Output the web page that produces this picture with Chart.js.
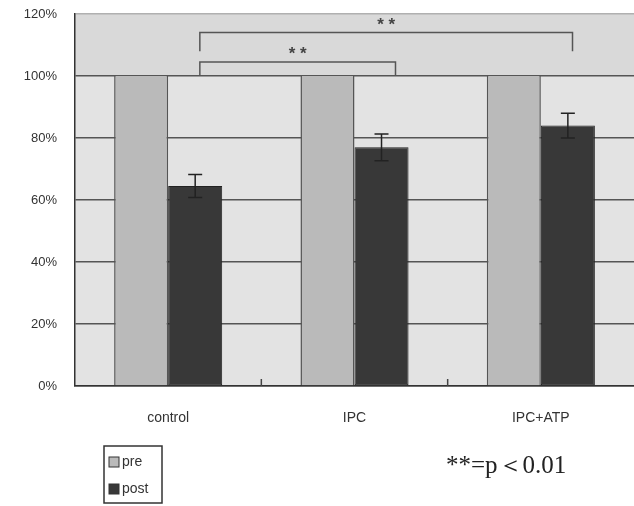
<!DOCTYPE html>
<html>
<head>
<meta charset="utf-8">
<script src="https://cdn.jsdelivr.net/npm/chart.js@4"></script>
<style>
  html, body { margin: 0; padding: 0; background: #fff; }
  #wrap { width: 634px; height: 506px; position: relative; }
</style>
</head>
<body>
<div id="wrap"><canvas id="grafico"></canvas></div>
<script>
const categorias = ['control', 'IPC', 'IPC+ATP'];
const valoresPre = [100, 100, 100];
const valoresPost = [64.5, 77, 84];
const errosPost = [3.7, 4.3, 4];
const ticksY = [0, 20, 40, 60, 80, 100, 120];
const legendas = ['pre', 'post'];
// brackets: [from x (category units), to x, height %, drop %, label]
const chaves = [
    [0.17, 1.22, 104.5, 100, '* *'],
    [0.17, 2.17, 114, 108, '* *']
];

const fundo = {
    id: 'fundo',
    beforeDraw(chart) {
        const { ctx, chartArea: a, scales } = chart;
        const y100 = scales.y.getPixelForValue(100);
        ctx.save();
        ctx.fillStyle = '#e3e3e3';
        ctx.fillRect(a.left, a.top, a.right - a.left, a.bottom - a.top);
        ctx.fillStyle = '#d9d9d9';
        ctx.fillRect(a.left, a.top, a.right - a.left, y100 - a.top);
        ctx.restore();
    }
};

const extras = {
    id: 'extras',
    afterDatasetsDraw(chart) {
        const { ctx, scales } = chart;
        const x = scales.x, y = scales.y;
        ctx.save();
        ctx.strokeStyle = '#222';
        ctx.lineWidth = 1.5;

        // error bars on post
        const meta = chart.getDatasetMeta(1);
        meta.data.forEach((bar, i) => {
            const top = y.getPixelForValue(valoresPost[i] + errosPost[i]);
            const bot = y.getPixelForValue(valoresPost[i] - errosPost[i]);
            ctx.beginPath();
            ctx.moveTo(bar.x, top); ctx.lineTo(bar.x, bot);
            ctx.moveTo(bar.x - 7, top); ctx.lineTo(bar.x + 7, top);
            ctx.moveTo(bar.x - 7, bot); ctx.lineTo(bar.x + 7, bot);
            ctx.stroke();
        });

        // small ticks between categories
        ctx.strokeStyle = '#444';
        for (let i = 0; i < categorias.length - 1; i++) {
            const px = (x.getPixelForTick(i) + x.getPixelForTick(i + 1)) / 2;
            ctx.beginPath();
            ctx.moveTo(px, y.bottom); ctx.lineTo(px, y.bottom - 7);
            ctx.stroke();
        }

        // significance brackets
        ctx.strokeStyle = '#555';
        ctx.fillStyle = '#444';
        ctx.font = 'bold 17px "Liberation Sans", Arial, sans-serif';
        ctx.textAlign = 'center';
        ctx.textBaseline = 'bottom';
        chaves.forEach(([a, b, h, d, txt]) => {
            const x1 = x.getPixelForValue(a), x2 = x.getPixelForValue(b);
            const yh = y.getPixelForValue(h), yd = y.getPixelForValue(d);
            ctx.beginPath();
            ctx.moveTo(x1, yd); ctx.lineTo(x1, yh); ctx.lineTo(x2, yh); ctx.lineTo(x2, yd);
            ctx.stroke();
            ctx.fillText(txt, (x1 + x2) / 2, yh + 1);
        });
        ctx.restore();
    },
    afterDraw(chart) {
        const { ctx } = chart;
        ctx.save();
        // legend box
        ctx.strokeStyle = '#333';
        ctx.lineWidth = 1.5;
        ctx.strokeRect(104, 446, 58, 57);
        ctx.font = '14px "Liberation Sans", Arial, sans-serif';
        ctx.textBaseline = 'middle';
        chart.data.datasets.forEach((ds, i) => {
            const cy = 462 + i * 27;
            ctx.fillStyle = ds.backgroundColor;
            ctx.fillRect(109, cy - 5, 10, 10);
            ctx.strokeStyle = '#333';
            ctx.lineWidth = 1;
            ctx.strokeRect(109, cy - 5, 10, 10);
            ctx.fillStyle = '#333';
            ctx.fillText(ds.label, 122, cy);
        });
        // p-value note
        ctx.font = '25px "Liberation Serif", "Times New Roman", serif';
        ctx.fillStyle = '#222';
        ctx.textAlign = 'left';
        ctx.fillText('**=p\uFF1C0.01', 446, 466);
        ctx.restore();
    }
};

new Chart(document.getElementById('grafico'), {
    type: 'bar',
    data: {
        labels: categorias,
        datasets: [{
            label: legendas[0],
            data: valoresPre,
            backgroundColor: '#bababa',
            borderColor: '#555',
            borderWidth: { left: 1.5, right: 1.5, top: 0, bottom: 0 },
            borderSkipped: false
        }, {
            label: legendas[1],
            data: valoresPost,
            backgroundColor: '#383838',
            borderColor: '#222',
            borderWidth: 1,
            borderSkipped: false
        }]
    },
    options: {
        responsive: true,
        maintainAspectRatio: false,
        animation: false,
        layout: { padding: { top: 14, right: 0, left: 0, bottom: 0 } },
        plugins: { legend: { display: false }, tooltip: { enabled: false } },
        datasets: { bar: { barPercentage: 1, categoryPercentage: 0.58 } },
        scales: {
            x: {
                grid: { display: false },
                border: { color: '#333', width: 1.5 },
                ticks: {
                    color: '#333',
                    padding: 16,
                    font: { family: '"Liberation Sans", Arial, sans-serif', size: 14 }
                },
                afterFit(s) { s.height = 120; }
            },
            y: {
                min: 0, max: 120,
                afterBuildTicks(s) { s.ticks = ticksY.map(v => ({ value: v })); },
                grid: {
                    color: c => c.tick && c.tick.value === 120 ? '#b0b0b0' : '#555',
                    lineWidth: 1.5,
                    drawTicks: false
                },
                border: { color: '#333', width: 1.5 },
                ticks: {
                    color: '#333',
                    padding: 18,
                    callback: v => v + '%',
                    font: { family: '"Liberation Sans", Arial, sans-serif', size: 13 }
                },
                afterFit(s) { s.width = 75; s.paddingTop = 0; s.paddingBottom = 0; }
            }
        }
    },
    plugins: [fundo, extras]
});
</script>
</body>
</html>
